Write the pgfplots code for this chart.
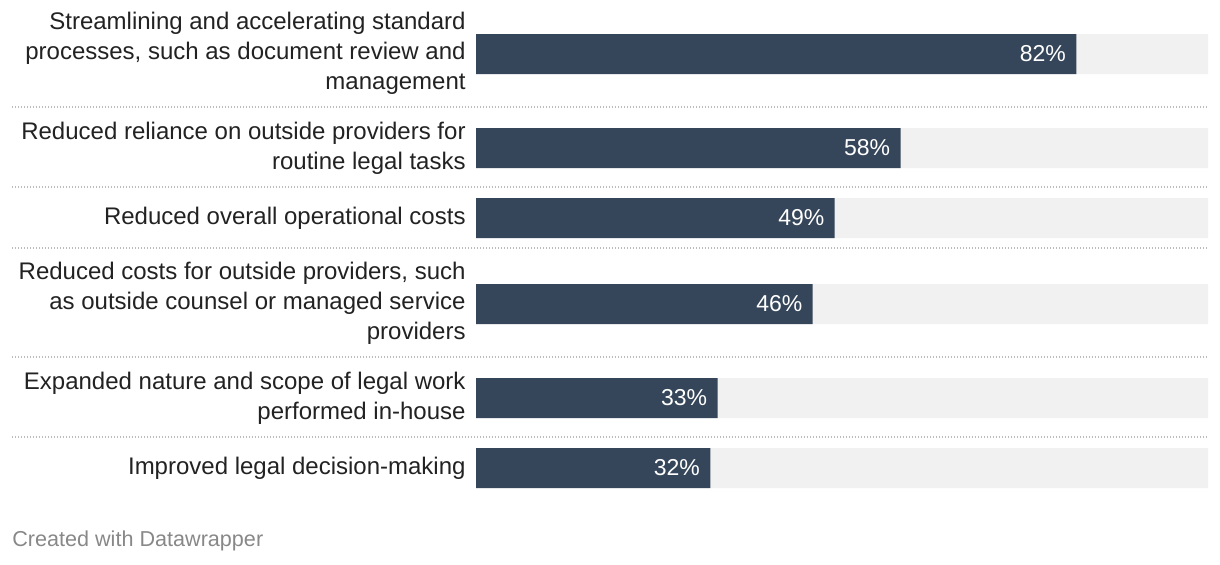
\documentclass[border=0pt]{standalone}
\usepackage{pgfplots}
\pgfplotsset{compat=1.18}
\usepackage{fontspec}
\setmainfont{Liberation Sans}
\definecolor{barc}{HTML}{36465A}
\definecolor{bgc}{HTML}{F1F1F1}
\definecolor{txt}{HTML}{222222}
\definecolor{sep}{HTML}{BBBBBB}
\definecolor{foot}{HTML}{888888}
\begin{document}
\begin{tikzpicture}
\begin{axis}[
  scale only axis, width=610pt, height=282pt,
  xmin=-65.03, xmax=101.64, ymin=0, ymax=564, y dir=reverse,
  axis lines=none, clip=false,
  xbar, bar width=40, bar shift=0pt,
  /pgf/number format/assume math mode=true,
]
\addplot[draw=none, fill=bgc] coordinates {(100,54) (100,148) (100,218) (100,304) (100,398) (100,468)};
\addplot[draw=none, fill=barc, point meta=x,
  nodes near coords={\pgfmathprintnumber{\pgfplotspointmeta}\%},
  nodes near coords style={anchor=east, inner sep=0pt, xshift=-5pt, text=white, font=\fontsize{11.5}{13}\selectfont}]
  coordinates {(82,54) (58,148) (49,218) (46,304) (33,398) (32,468)};
\foreach \yy in {107,187,248,357,437}{
  \edef\tmp{\noexpand\draw[sep, line width=0.6pt, dash pattern=on 0.6pt off 0.9pt] (axis cs:-63.4,\yy) -- (axis cs:100,\yy);}\tmp
}
\tikzset{lab/.style={anchor=east, align=right, inner sep=0pt, text=txt, font=\fontsize{12}{15}\selectfont}}
\node[lab] at (axis cs:-1.37,53) {Streamlining and accelerating standard\\processes, such as document review and\\management};
\node[lab] at (axis cs:-1.37,148) {Reduced reliance on outside providers for\\routine legal tasks};
\node[lab] at (axis cs:-1.37,218) {Reduced overall operational costs};
\node[lab] at (axis cs:-1.37,303) {Reduced costs for outside providers, such\\as outside counsel or managed service\\providers};
\node[lab] at (axis cs:-1.37,398) {Expanded nature and scope of legal work\\performed in-house};
\node[lab] at (axis cs:-1.37,468) {Improved legal decision-making};
\node[anchor=west, inner sep=0pt, text=foot, font=\fontsize{10.8}{13}\selectfont] at (axis cs:-63.4,541) {Created with Datawrapper};
\path (rel axis cs:0,0) (rel axis cs:1,1);
\end{axis}
\end{tikzpicture}
\end{document}
